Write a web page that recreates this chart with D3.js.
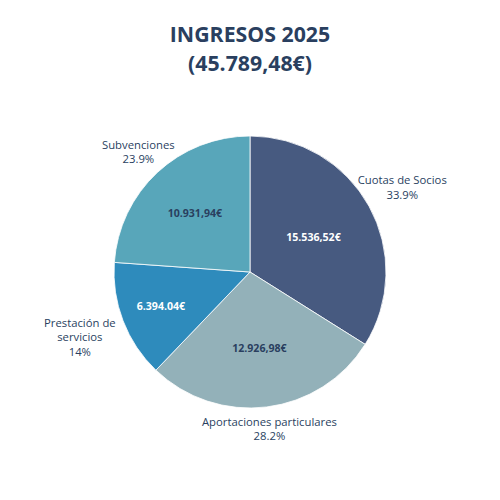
<!DOCTYPE html>
<html>
<head>
<meta charset="utf-8">
<script src="https://cdn.jsdelivr.net/npm/d3@7"></script>
<style>
  html, body { margin: 0; padding: 0; background: #fff; }
  svg { display: block; font-family: "Open Sans", sans-serif; }
</style>
</head>
<body>
<svg id="chart" width="500" height="500"></svg>
<script>
const titleLines = ["INGRESOS 2025", "(45.789,48€)"];
const categories = ["Cuotas de Socios", "Aportaciones particulares", "Prestación de\nservicios", "Subvenciones"];
const values = [15536.52, 12926.98, 6394.04, 10931.94];
const valueLabels = ["15.536,52€", "12.926,98€", "6.394.04€", "10.931,94€"];
const colors = ["#475a80", "#93b1b9", "#2e8bbc", "#58a6ba"];
const insideTextColors = ["#ffffff", "#2a3f5f", "#ffffff", "#2a3f5f"];

const W = 500, H = 500;
const cx = 250, cy = 272, R = 136;
const textColor = "#2a3f5f";

const svg = d3.select("#chart");

// Title
const title = svg.append("text")
  .attr("x", W / 2).attr("y", 42)
  .attr("text-anchor", "middle")
  .attr("font-size", 21.3).attr("font-weight", "bold")
  .attr("fill", textColor);
titleLines.forEach((t, i) => {
  title.append("tspan").attr("x", W / 2).attr("dy", i === 0 ? 0 : 29).text(t);
});

const data = categories.map((c, i) => ({ label: c, value: values[i], vlabel: valueLabels[i], i }));
const total = d3.sum(values);

const pie = d3.pie().sort(null).value(d => d.value);
const arcs = pie(data);
const arc = d3.arc().innerRadius(0).outerRadius(R);

const g = svg.append("g").attr("transform", `translate(${cx},${cy})`);

g.selectAll("path.slice").data(arcs).join("path")
  .attr("class", "slice")
  .attr("d", arc)
  .attr("fill", d => colors[d.data.i])
  .attr("stroke", "#ffffff")
  .attr("stroke-width", 0.8);

// Inside value labels (centre of largest inscribed circle of each sector)
function insidePos(d) {
  const mid = (d.startAngle + d.endAngle) / 2;
  const half = Math.min((d.endAngle - d.startAngle) / 2, Math.PI / 2);
  const dist = R / (1 + Math.sin(half));
  return [Math.sin(mid) * dist, -Math.cos(mid) * dist];
}
g.selectAll("text.inside").data(arcs).join("text")
  .attr("class", "inside")
  .attr("text-anchor", "middle")
  .attr("font-size", 10.6).attr("font-weight", "bold")
  .attr("fill", d => insideTextColors[d.data.i])
  .attr("x", d => insidePos(d)[0])
  .attr("y", d => insidePos(d)[1] + 4)
  .text(d => d.data.vlabel);

// Outside labels
const pctFmt = d3.format(".3~r");
const lineH = 14.5, fs = 11.3, gap = 8;
arcs.forEach(d => {
  const lines = d.data.label.split("\n").concat([pctFmt(d.data.value / total * 100) + "%"]);
  const t = g.append("text")
    .attr("text-anchor", "middle")
    .attr("font-size", fs)
    .attr("fill", textColor);
  const spans = lines.map(l => t.append("tspan").text(l));
  const w = d3.max(spans, s => s.node().getComputedTextLength());
  const h = lines.length * lineH;
  const mid = (d.startAngle + d.endAngle) / 2;
  const s = Math.sin(mid), c = Math.cos(mid);
  const tEdge = Math.min(Math.abs(s) > 1e-6 ? (w / 2) / Math.abs(s) : Infinity,
                         Math.abs(c) > 1e-6 ? (h / 2) / Math.abs(c) : Infinity);
  const dist = R + gap + tEdge;
  const x = s * dist, y = -c * dist;
  const top = y - h / 2;
  spans.forEach((sp, k) => {
    sp.attr("x", x).attr("y", top + k * lineH + 11);
  });
});
</script>
</body>
</html>
